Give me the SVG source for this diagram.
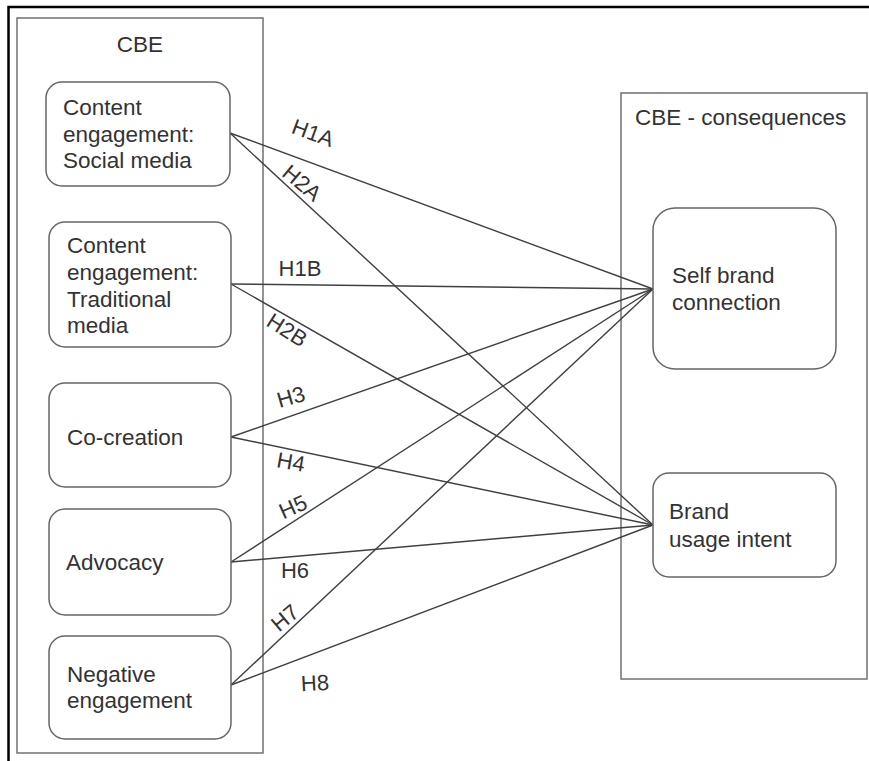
<svg xmlns="http://www.w3.org/2000/svg" width="869" height="761" viewBox="0 0 869 761">
<style>
.frame{stroke:#000;stroke-width:2.5;fill:none}
.group{fill:none;stroke:#707070;stroke-width:1.5}
.node{fill:#fff;stroke:#666;stroke-width:1.5}
.t{font-family:"Liberation Sans",Arial,sans-serif;font-size:22.5px;fill:#333}
.lbl{font-family:"Liberation Sans",Arial,sans-serif;font-size:22px;fill:#333;text-anchor:middle;dominant-baseline:central}
.c{stroke:#404040;stroke-width:1.4;fill:none}
</style>
<rect width="869" height="761" fill="#fff"/>
<path class="frame" d="M8.5 761 V7 H869"/>
<g id="cbe">
<rect class="group" x="17" y="18" width="246" height="735"/>
<text class="t" x="140" y="52" text-anchor="middle">CBE</text>
</g>
<g id="cbe-consequences">
<rect class="group" x="621" y="93" width="246" height="586"/>
<text class="t" x="635" y="125">CBE - consequences</text>
</g>
<g id="connectors">
<line class="c" x1="230" y1="133" x2="653" y2="289"/>
<line class="c" x1="230" y1="133" x2="653" y2="525"/>
<line class="c" x1="231" y1="284" x2="653" y2="289"/>
<line class="c" x1="231" y1="284" x2="653" y2="525"/>
<line class="c" x1="231" y1="437" x2="653" y2="289"/>
<line class="c" x1="231" y1="437" x2="653" y2="525"/>
<line class="c" x1="231" y1="562" x2="653" y2="289"/>
<line class="c" x1="231" y1="562" x2="653" y2="525"/>
<line class="c" x1="231" y1="685" x2="653" y2="289"/>
<line class="c" x1="231" y1="685" x2="653" y2="525"/>
<text class="lbl" transform="translate(313,133) rotate(20)">H1A</text>
<text class="lbl" transform="translate(302,183) rotate(40)">H2A</text>
<text class="lbl" transform="translate(300,268)">H1B</text>
<text class="lbl" transform="translate(287,330) rotate(32)">H2B</text>
<text class="lbl" transform="translate(291,397) rotate(-16)">H3</text>
<text class="lbl" transform="translate(291,462) rotate(10)">H4</text>
<text class="lbl" transform="translate(293,507) rotate(-24)">H5</text>
<text class="lbl" transform="translate(295,570)">H6</text>
<text class="lbl" transform="translate(285,618) rotate(-40)">H7</text>
<text class="lbl" transform="translate(315,683) rotate(-3)">H8</text>
</g>
<g id="n-social">
<rect class="node" x="46" y="82" width="184" height="104" rx="16"/>
<text class="t" x="63" y="115">Content</text>
<text class="t" x="63" y="142">engagement:</text>
<text class="t" x="63" y="168">Social media</text>
</g>
<g id="n-traditional">
<rect class="node" x="49" y="222" width="182" height="125" rx="16"/>
<text class="t" x="67" y="253">Content</text>
<text class="t" x="67" y="280">engagement:</text>
<text class="t" x="67" y="307">Traditional</text>
<text class="t" x="67" y="333">media</text>
</g>
<g id="n-cocreation">
<rect class="node" x="49" y="383" width="182" height="104" rx="16"/>
<text class="t" x="67" y="445">Co-creation</text>
</g>
<g id="n-advocacy">
<rect class="node" x="49" y="509" width="182" height="106" rx="16"/>
<text class="t" x="66" y="570">Advocacy</text>
</g>
<g id="n-negative">
<rect class="node" x="49" y="636" width="182" height="103" rx="16"/>
<text class="t" x="67" y="682">Negative</text>
<text class="t" x="67" y="708">engagement</text>
</g>
<g id="n-selfbrand">
<rect class="node" x="653" y="208" width="183" height="161" rx="22"/>
<text class="t" x="672" y="283">Self brand</text>
<text class="t" x="672" y="310">connection</text>
</g>
<g id="n-usage">
<rect class="node" x="653" y="473" width="183" height="104" rx="16"/>
<text class="t" x="669" y="519">Brand</text>
<text class="t" x="669" y="547">usage intent</text>
</g>
</svg>
